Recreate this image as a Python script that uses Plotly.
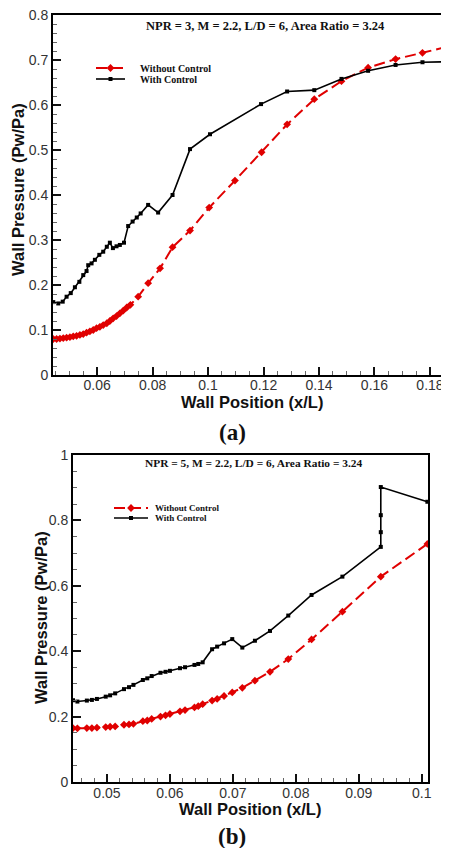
import plotly.graph_objects as go

# ---------------- data: panel (a) ----------------
a_without_x = [0.0442, 0.0454, 0.0466, 0.0478, 0.0490, 0.0502, 0.0514, 0.0526, 0.0538, 0.0550,
               0.0562, 0.0574, 0.0586, 0.0598, 0.0610, 0.0622, 0.0635, 0.0646, 0.0658, 0.0670,
               0.0682, 0.0694, 0.0707, 0.0720, 0.0748, 0.0784, 0.0827, 0.0872, 0.0935, 0.1004,
               0.1097, 0.1193, 0.1285, 0.1383, 0.1481, 0.1577, 0.1676, 0.1773, 0.1865]
a_without_y = [0.080, 0.080, 0.081, 0.082, 0.083, 0.084, 0.086, 0.087, 0.089, 0.091,
               0.094, 0.097, 0.100, 0.104, 0.107, 0.111, 0.115, 0.120, 0.126, 0.131,
               0.137, 0.143, 0.150, 0.156, 0.174, 0.204, 0.237, 0.284, 0.321, 0.372,
               0.432, 0.495, 0.557, 0.613, 0.653, 0.683, 0.702, 0.716, 0.730]
a_with_x = [0.0442, 0.0460, 0.0476, 0.0490, 0.0505, 0.0520, 0.0536, 0.0550, 0.0562, 0.0568,
            0.0580, 0.0592, 0.0608, 0.0622, 0.0635, 0.0646, 0.0657, 0.0670, 0.0682, 0.0697,
            0.0712, 0.0728, 0.0743, 0.0757, 0.0784, 0.0820, 0.0872, 0.0935, 0.1007, 0.1191,
            0.1285, 0.1383, 0.1481, 0.1577, 0.1676, 0.1773, 0.1863]
a_with_y = [0.162, 0.159, 0.163, 0.174, 0.182, 0.195, 0.207, 0.222, 0.231, 0.244,
            0.248, 0.256, 0.267, 0.274, 0.285, 0.294, 0.282, 0.286, 0.289, 0.294,
            0.331, 0.341, 0.350, 0.359, 0.378, 0.361, 0.400, 0.502, 0.535, 0.602,
            0.630, 0.633, 0.658, 0.676, 0.689, 0.695, 0.696]

# ---------------- data: panel (b) ----------------
b_x = [0.0446, 0.0453, 0.0468, 0.0476, 0.0484, 0.0498, 0.0505, 0.0513, 0.0527, 0.0535,
       0.0542, 0.0557, 0.0564, 0.0571, 0.0585, 0.0593, 0.0600, 0.0616, 0.0624, 0.0639,
       0.0645, 0.0652, 0.0667, 0.0675, 0.0686, 0.0699, 0.0715, 0.0735, 0.0759, 0.0788,
       0.0825, 0.0874, 0.0935]
b_without_y = [0.165, 0.164, 0.165, 0.165, 0.166, 0.168, 0.169, 0.170, 0.175, 0.176,
               0.178, 0.186, 0.188, 0.193, 0.200, 0.204, 0.208, 0.216, 0.220, 0.228,
               0.232, 0.238, 0.249, 0.254, 0.263, 0.274, 0.288, 0.310, 0.337, 0.376,
               0.436, 0.521, 0.628]
b_without_x_end = [0.1009]
b_without_y_end = [0.728]
b_with_y = [0.250, 0.246, 0.249, 0.251, 0.254, 0.261, 0.265, 0.271, 0.284, 0.290,
            0.297, 0.312, 0.317, 0.324, 0.334, 0.337, 0.340, 0.348, 0.351, 0.358,
            0.361, 0.366, 0.406, 0.414, 0.424, 0.437, 0.411, 0.432, 0.462, 0.509,
            0.572, 0.628, 0.719]
b_with_x_end = [0.0935, 0.0935, 0.0935, 0.1009]
b_with_y_end = [0.764, 0.816, 0.902, 0.857]

a_xticks = [0.06, 0.08, 0.10, 0.12, 0.14, 0.16, 0.18]
a_xticktext = ["0.06", "0.08", "0.1", "0.12", "0.14", "0.16", "0.18"]
a_yticks = [0, 0.1, 0.2, 0.3, 0.4, 0.5, 0.6, 0.7, 0.8]
a_yticktext = ["0", "0.1", "0.2", "0.3", "0.4", "0.5", "0.6", "0.7", "0.8"]
b_xticks = [0.05, 0.06, 0.07, 0.08, 0.09, 0.10]
b_xticktext = ["0.05", "0.06", "0.07", "0.08", "0.09", "0.1"]
b_yticks = [0, 0.2, 0.4, 0.6, 0.8, 1.0]
b_yticktext = ["0", "0.2", "0.4", "0.6", "0.8", "1"]

labels = ["Without Control", "With Control"]
title_a = "NPR = 3, M = 2.2, L/D = 6, Area Ratio = 3.24"
title_b = "NPR = 5, M = 2.2, L/D = 6, Area Ratio = 3.24"

RED = "#e00000"
BLK = "#000000"
WIN_W, WIN_H = 449, 848
OFF = 8  # default page body margin
W, H = WIN_W - OFF, WIN_H - OFF


def px_x(p):
    return (p - OFF) / W


def px_y(p):
    return 1 - (p - OFF) / H


red_line = dict(color=RED, width=2, dash="11px,5px")
red_marker = dict(symbol="diamond", size=6, color=RED)
blk_line = dict(color=BLK, width=1.6)
blk_marker = dict(symbol="square", size=4, color=BLK)

fig = go.Figure()
fig.add_trace(go.Scatter(x=a_without_x, y=a_without_y, mode="lines+markers", line=red_line,
                         marker=red_marker, xaxis="x", yaxis="y", showlegend=False))
fig.add_trace(go.Scatter(x=a_with_x, y=a_with_y, mode="lines+markers", line=blk_line,
                         marker=blk_marker, xaxis="x", yaxis="y", showlegend=False))
fig.add_trace(go.Scatter(x=b_x + b_without_x_end, y=b_without_y + b_without_y_end,
                         mode="lines+markers", line=red_line, marker=red_marker,
                         xaxis="x2", yaxis="y2", showlegend=False))
fig.add_trace(go.Scatter(x=b_x + b_with_x_end, y=b_with_y + b_with_y_end,
                         mode="lines+markers", line=blk_line, marker=blk_marker,
                         xaxis="x2", yaxis="y2", showlegend=False))


# legend samples on an overlay pixel axis
def legend_sample(x0, x1, y, line, marker):
    fig.add_trace(go.Scatter(x=[x0, (x0 + x1) / 2, x1], y=[y, y, y], mode="lines",
                             line=line, xaxis="x3", yaxis="y3", showlegend=False,
                             hoverinfo="skip"))
    fig.add_trace(go.Scatter(x=[(x0 + x1) / 2], y=[y], mode="markers", marker=marker,
                             xaxis="x3", yaxis="y3", showlegend=False, hoverinfo="skip"))


legend_sample(96, 125, 68, red_line, red_marker)
legend_sample(96, 125, 79, blk_line, blk_marker)
legend_sample(114, 148, 508, red_line, red_marker)
legend_sample(114, 148, 518, blk_line, blk_marker)

tickfont = dict(family="Liberation Sans, Arial", size=14, color="#333333")


def axis_common(domain, rng, tickvals, ticktext, minor_dtick, anchor):
    return dict(domain=domain, range=rng, tickvals=tickvals, ticktext=ticktext,
                ticks="inside", ticklen=8, tickwidth=2, tickcolor="#111111",
                showline=True, linecolor="#000000", linewidth=2, mirror=True,
                showgrid=False, zeroline=False, tickfont=tickfont, anchor=anchor,
                automargin=False, ticklabeloverflow="allow",
                minor=dict(dtick=minor_dtick, tick0=0, ticks="inside", ticklen=4,
                           tickwidth=1, tickcolor="#666666"))


xa = axis_common([px_x(53), px_x(448)], [0.0441, 0.1865], a_xticks, a_xticktext, 0.005, "y")
ya = axis_common([px_y(375), px_y(15)], [0, 0.8], a_yticks, a_yticktext, 0.02, "x")
xb = axis_common([px_x(73), px_x(428)], [0.0446, 0.101], b_xticks, b_xticktext, 0.002, "y2")
yb = axis_common([px_y(782), px_y(455)], [0, 1.0], b_yticks, b_yticktext, 0.05, "x2")
xa["ticklabelstandoff"] = -4
xb["ticklabelstandoff"] = -3

fig.update_layout(
    width=W, height=H, margin=dict(l=0, r=0, t=0, b=0, autoexpand=False),
    paper_bgcolor="white", plot_bgcolor="rgba(0,0,0,0)",
    xaxis=xa, yaxis=ya, xaxis2=xb, yaxis2=yb,
    xaxis3=dict(domain=[0, 1], range=[OFF, WIN_W], visible=False, anchor="y3",
                fixedrange=True, automargin=False),
    yaxis3=dict(domain=[0, 1], range=[WIN_H, OFF], visible=False, anchor="x3",
                fixedrange=True, automargin=False),
)

serif_b = dict(family="Liberation Serif, Times New Roman", color="#111111")
sans_b = dict(family="Liberation Sans, Arial", color="#111111")


def ann(text, x, y, font, angle=0):
    fig.add_annotation(text=text, x=x, y=y, xref="x3", yref="y3", showarrow=False,
                       font=font, textangle=angle, xanchor="center", yanchor="middle")


def ann_left(text, x, y, font):
    fig.add_annotation(text=text, x=x, y=y, xref="x3", yref="y3", showarrow=False,
                       font=font, xanchor="left", yanchor="middle")


ann("<b>" + title_a + "</b>", 265, 26, dict(size=12.5, **serif_b))
ann("<b>" + title_b + "</b>", 253, 463, dict(size=11.4, **serif_b))
ann_left("<b>" + labels[0] + "</b>", 138, 68, dict(size=10, **serif_b))
ann_left("<b>" + labels[1] + "</b>", 138, 79, dict(size=10, **serif_b))
ann_left("<b>" + labels[0] + "</b>", 153, 508, dict(size=9, **serif_b))
ann_left("<b>" + labels[1] + "</b>", 153, 518, dict(size=9, **serif_b))

ann("<b>Wall Pressure (Pw/Pa)</b>", 18, 190, dict(size=16.5, **sans_b), angle=-90)
ann("<b>Wall Position (x/L)</b>", 252, 402, dict(size=16.5, **sans_b))
ann("<b>Wall Pressure (Pw/Pa)</b>", 41, 618, dict(size=16.5, **sans_b), angle=-90)
ann("<b>Wall Position (x/L)</b>", 250, 809, dict(size=16.5, **sans_b))
ann("<b>(a)</b>", 232, 432, dict(size=23, **serif_b))
ann("<b>(b)</b>", 232, 836, dict(size=23, **serif_b))

fig.write_html("out.html")
